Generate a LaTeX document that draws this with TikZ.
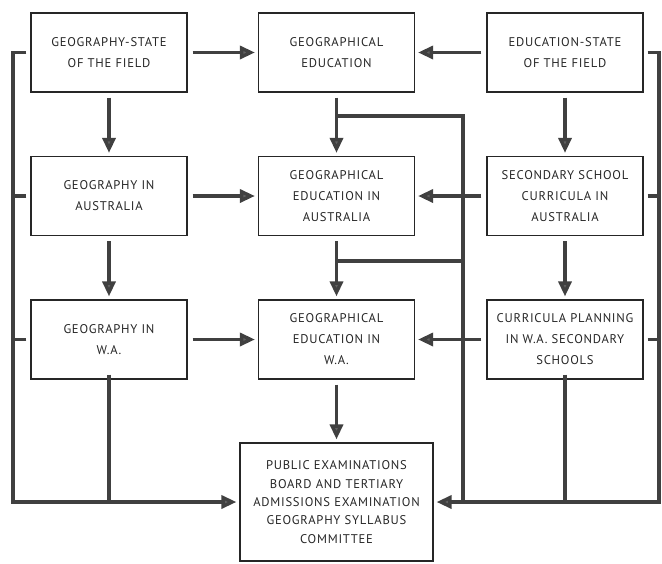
\documentclass[tikz,border=0pt]{standalone}
\usepackage{fontspec}
\setmainfont{PT Sans}[LetterSpace=6]
\usetikzlibrary{arrows.meta}
\begin{document}
\begin{tikzpicture}[x=1pt,y=-1pt,
  box/.style={draw=black!85,line width=1.2pt,minimum width=156pt,minimum height=79pt,
    inner sep=0pt,align=center,font=\fontsize{12.6}{21}\selectfont,text=black!85},
  bigbox/.style={box,minimum width=193pt,minimum height=118pt,font=\fontsize{12.6}{18.3}\selectfont},
  flow/.style={draw=black!75,line width=3.4pt,
    -{Triangle[length=15pt,width=13pt,fill=black!62]},shorten <=5pt,shorten >=3pt},
  wire/.style={draw=black!75,line width=3.4pt}]
\useasboundingbox (0,0) rectangle (662,563);
% left column
\node[box] (g1) at (109,52.5) {GEOGRAPHY-STATE\\OF THE FIELD};
\node[box] (g2) at (109,196) {GEOGRAPHY IN\\AUSTRALIA};
\node[box] (g3) at (109,339.5) {GEOGRAPHY IN\\W.A.};
% middle column
\node[box] (e1) at (336.5,52.5) {GEOGRAPHICAL\\EDUCATION};
\node[box] (e2) at (336.5,196) {GEOGRAPHICAL\\EDUCATION IN\\AUSTRALIA};
\node[box] (e3) at (336.5,339.5) {GEOGRAPHICAL\\EDUCATION IN\\W.A.};
% right column
\node[box] (s1) at (565,52.5) {EDUCATION-STATE\\OF THE FIELD};
\node[box] (s2) at (565,196) {SECONDARY SCHOOL\\CURRICULA IN\\AUSTRALIA};
\node[box] (s3) at (565,339.5) {CURRICULA PLANNING\\IN W.A. SECONDARY\\SCHOOLS};
% committee
\node[bigbox] (pb) at (336.5,502) {PUBLIC EXAMINATIONS\\BOARD AND TERTIARY\\ADMISSIONS EXAMINATION\\GEOGRAPHY SYLLABUS\\COMMITTEE};

% flows across
\foreach \a/\b in {g1/e1,g2/e2,g3/e3,s1/e1,s2/e2,s3/e3}
  \draw[flow] (\a) -- (\b);
% flows down
\foreach \a/\b in {g1/g2,g2/g3,e1/e2,e2/e3,e3/pb,s1/s2,s2/s3}
  \draw[flow] (\a.south) -- (\b.north);

% left feedback bus
\coordinate (lt) at (13,52.5);
\coordinate (lb) at (13,502);
\draw[wire] ([yshift=-1.7pt]lt) -- (lb);
\foreach \n in {g1,g2,g3}
  \draw[wire] ([xshift=-4pt]\n.west) -- ([xshift=-1.7pt]\n.west -| lt);
\draw[flow,shorten <=-1.7pt] (lb) -- (pb.west);
\draw[wire] ([yshift=5pt]g3.south) -- (g3.south |- lb);

% right feedback bus
\coordinate (rt) at (659,52.5);
\coordinate (rb) at (659,502);
\draw[wire] ([yshift=-1.7pt]rt) -- (rb);
\foreach \n in {s1,s2,s3}
  \draw[wire] ([xshift=4pt]\n.east) -- ([xshift=1.7pt]\n.east -| rt);
\draw[flow,shorten <=-1.7pt] (rb) -- (pb.east);
\draw[wire] ([yshift=5pt]s3.south) -- (s3.south |- rb);

% branches from the education column
\coordinate (it) at (463,116);
\coordinate (im) at (463,261);
\draw[wire] ([yshift=-1.7pt]it) -- (it |- rb);
\draw[wire] (e1.south |- it) -- ([xshift=1.7pt]it);
\draw[wire] (e2.south |- im) -- (im);
\end{tikzpicture}
\end{document}
